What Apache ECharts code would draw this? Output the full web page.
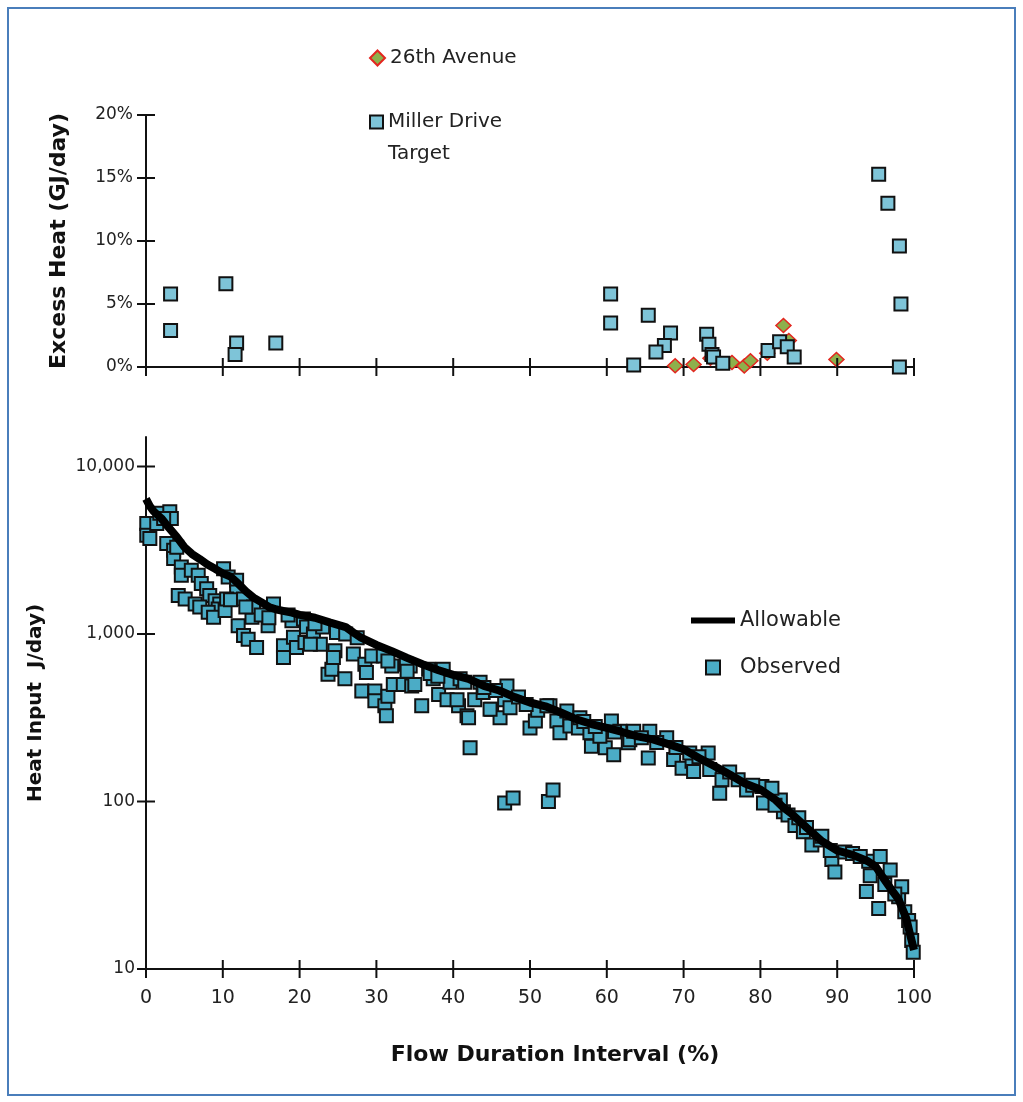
<!DOCTYPE html>
<html>
<head>
<meta charset="utf-8">
<script src="https://cdn.jsdelivr.net/npm/echarts@6/dist/echarts.min.js"></script>
<style>
  html, body { margin: 0; padding: 0; background: #fff; }
  #chart { width: 1023px; height: 1102px; }
  #frame { position: absolute; left: 7px; top: 7px; width: 1005px; height: 1085px;
           border: 2px solid #4a7ebb; pointer-events: none; }
</style>
</head>
<body>
<div id="chart"></div>
<div id="frame"></div>
<script>
// top panel: excess heat (%)
const avenueFlow = [68.9, 71.3, 73.5, 76.3, 77.9, 78.7, 80.9, 83.0, 83.7, 89.9]
const avenueExcess = [0.1, 0.2, 0.7, 0.35, 0.08, 0.5, 1.1, 3.3, 2.1, 0.6]

const millerFlow = [3.2, 3.2, 10.4, 11.8, 11.6, 16.9, 60.5, 60.5, 65.4, 68.3, 67.5, 66.4, 63.5,
  73.0, 73.3, 73.7, 73.9, 75.1, 81.0, 82.5, 83.5, 84.4, 95.4, 96.6, 98.1, 98.3, 98.1]
const millerExcess = [5.8, 2.9, 6.6, 1.9, 1.0, 1.9, 5.8, 3.5, 4.1, 2.7, 1.7, 1.2, 0.15,
  2.6, 1.8, 1.0, 0.8, 0.3, 1.3, 2.0, 1.6, 0.8, 15.3, 13.0, 9.6, 5.0, 0.0]

// bottom panel: heat input (log)
const allowFlow = [0, 0.5, 1, 2, 3, 4, 5, 6, 7, 8, 9, 10, 11, 12, 13, 14, 15, 16, 17, 18, 19, 20,
  22, 24, 26, 27, 28, 30, 32, 34, 36, 38, 40, 42, 44, 46, 48, 50, 52, 54, 56, 58, 60, 62, 64,
  66, 68, 70, 72, 74, 76, 78, 80, 82, 83, 84, 86, 88, 90, 92, 94, 95, 96, 97, 98, 99, 99.5, 100]
const allowHeat = [6400, 5800, 5400, 4900, 4300, 3800, 3300, 3000, 2800, 2600, 2450, 2300, 2200,
  2000, 1800, 1650, 1550, 1450, 1400, 1370, 1340, 1300, 1250, 1170, 1100, 1020, 950, 860, 790,
  720, 660, 610, 570, 540, 490, 460, 420, 390, 370, 340, 310, 290, 275, 260, 245, 235, 220, 205,
  182, 163, 145, 128, 118, 102, 92, 85, 70, 58, 51, 48, 44, 41, 35, 30, 26, 20, 16, 13]

const obsFlow = [0.1, 0.1, 0.5, 1.4, 1.8, 3.1, 3.3, 2.7, 3.6, 3.6, 4.6, 4.6, 5.9, 6.8, 7.2, 7.9,
  8.3, 9.0, 9.6, 9.4, 4.2, 5.1, 6.4, 7.0, 8.1, 8.8, 10.3, 10.1, 10.7, 11.8, 11.8, 12.7, 10.5,
  13.8, 14.0, 12.0, 12.7, 13.3, 14.4, 15.9, 16.6, 17.9, 17.9, 19.2, 19.6, 20.7, 19.0, 20.5, 20.9,
  21.8, 22.7, 21.4, 23.7, 24.2, 25.9, 24.8, 24.6, 24.4, 27.0, 28.5, 28.7, 29.4, 30.9, 28.1, 29.8,
  29.8, 31.1, 31.3, 31.5, 32.2, 32.0, 33.5, 34.4, 34.6, 35.9, 36.8, 37.4, 38.1, 38.7, 39.6, 39.2,
  40.7, 40.9, 41.8, 42.2, 40.5, 42.8, 41.5, 43.5, 43.9, 45.0, 46.1, 46.7, 47.4, 46.7, 47.8, 50.0,
  50.7, 52.4, 53.0, 53.5, 53.9, 55.2, 56.3, 52.6, 54.8, 57.8, 58.0, 59.8, 60.6, 60.9, 61.7, 62.8,
  65.6, 65.4, 67.8, 68.7, 69.8, 71.1, 73.2, 73.4, 75.0, 74.7, 77.1, 78.2, 80.2, 80.4, 82.6, 83.0,
  81.5, 81.9, 83.6, 84.5, 85.6, 86.7, 87.8, 89.3, 89.7, 89.1, 94.1, 95.6, 94.3, 93.8, 95.4, 96.2,
  96.9, 98.0, 98.4, 98.8, 99.3, 99.5, 99.7, 99.9, 33.9, 35.0, 37.0, 42.0, 44.8, 47.0, 51.0, 52.2,
  56.5, 59.1, 63.0, 63.5, 70.8, 71.3, 48.5, 49.5, 45.5, 44.0, 57.0, 58.5, 61.0, 64.5, 66.5, 69.0,
  72.0, 76.0, 79.0, 85.0, 86.0, 88.0, 91.0, 92.0, 93.0, 97.5, 26.0, 27.5, 23.0, 15.0, 16.0, 22.0,
  18.5, 13.0, 11.0, 2.3, 4.0, 34.0, 38.0, 31.5]
const obsHeat = [4570, 3890, 3720, 4570, 5250, 5370, 4900, 3470, 3160, 2820, 2510, 2240, 2400, 2240,
  2000, 1860, 1700, 1580, 1510, 1410, 1700, 1620, 1510, 1450, 1350, 1260, 1380, 2450, 2190, 2090,
  1780, 1620, 1620, 1260, 1450, 1120, 980, 930, 830, 1120, 1510, 850, 725, 955, 830, 890, 1200,
  1230, 1100, 1000, 870, 870, 575, 615, 540, 1020, 795, 725, 760, 660, 590, 740, 740, 457, 457,
  400, 373, 325, 425, 500, 645, 500, 645, 490, 373, 615, 540, 435, 615, 515, 405, 373, 540, 325,
  209, 405, 405, 515, 515, 447, 355, 316, 405, 363, 98, 105, 275, 302, 100, 117, 302, 257, 282,
  275, 373, 347, 257, 214, 209, 302, 190, 263, 224, 263, 182, 240, 178, 158, 174, 195, 155, 135,
  112, 135, 117, 123, 98, 102, 87, 120, 95, 83, 72, 66, 55, 59, 45, 38, 51, 44, 47, 36, 29, 23,
  32, 39, 27, 31, 22, 19.5, 17.8, 14.8, 12.6, 660, 500, 580, 316, 355, 490, 350, 373, 316, 245,
  234, 263, 195, 151, 420, 380, 460, 480, 300, 280, 260, 240, 225, 210, 185, 150, 125, 80, 70,
  62, 50, 49, 47, 28, 1000, 950, 1100, 1300, 1250, 1150, 1300, 1450, 1600, 4900, 3300, 600, 560, 690]

// tick positions (axis values)
const flowTicks = [0, 10, 20, 30, 40, 50, 60, 70, 80, 90, 100]
const excessTicks = [0, 5, 10, 15, 20]
const heatTicks = [10, 100, 1000, 10000]

const zip = (a, b) => a.map((v, i) => [v, b[i]])

const ink = '#111'
const tickFont = { fontFamily: 'DejaVu Sans', fontSize: 17, color: '#222' }
const titleFont = { fontFamily: 'DejaVu Sans', fontSize: 20, fontWeight: 'bold', color: '#111' }

function flowAxis(grid, extra) {
  return Object.assign({
    gridIndex: grid, type: 'value', min: 0, max: 100, interval: 10,
    axisLine: { show: true, onZero: false, lineStyle: { color: ink, width: 2 } },
    axisTick: { show: false },
    axisLabel: { show: false },
    splitLine: { show: false }
  }, extra)
}

// tick marks that cross the axis line (Excel style), placed through the axis scales
function crossTicks(name, axisIdx, values, vertical, base) {
  return {
    name: name, type: 'custom', xAxisIndex: axisIdx, yAxisIndex: axisIdx, silent: true,
    clip: false, z: 5,
    data: values.map(v => vertical ? [v, base] : [base, v]),
    renderItem: function (params, api) {
      const p = api.coord([api.value(0), api.value(1)])
      const half = 9
      const shape = vertical
        ? { x1: p[0], y1: p[1] - half, x2: p[0], y2: p[1] + half }
        : { x1: p[0] - half, y1: p[1], x2: p[0] + half, y2: p[1] }
      return { type: 'line', shape: shape, style: { stroke: ink, lineWidth: 2 } }
    }
  }
}

const chart = echarts.init(document.getElementById('chart'))
chart.setOption({
  animation: false,
  backgroundColor: '#fff',
  grid: [
    { left: 146, right: 109, top: 115, height: 252 },
    { left: 146, right: 109, top: 437, bottom: 133 }
  ],
  legend: [
    {
      data: ['26th Avenue'], left: 364, top: 43,
      itemWidth: 15, itemHeight: 15, itemGap: 0,
      textStyle: { fontFamily: 'DejaVu Sans', fontSize: 20, color: '#222' }
    },
    {
      data: ['Miller Drive Target'], left: 364, top: 69,
      itemWidth: 13, itemHeight: 13, itemGap: 0,
      formatter: ' \nMiller Drive\nTarget',
      textStyle: { fontFamily: 'DejaVu Sans', fontSize: 20, color: '#222', lineHeight: 32 }
    },
    {
      data: [
        { name: 'Allowable', icon: 'path://M0,0H45V6H0Z' },
        { name: 'Observed', icon: 'path://M0,0H10V10H0Z' }
      ],
      orient: 'vertical', left: 686, top: 605,
      itemWidth: 44, itemHeight: 14, itemGap: 26,
      textStyle: { fontFamily: 'DejaVu Sans', fontSize: 21, color: '#222' }
    }
  ],
  xAxis: [
    flowAxis(0),
    flowAxis(1, {
      axisLabel: Object.assign({ show: true, margin: 20 }, tickFont, { fontSize: 19 }),
      name: 'Flow Duration Interval (%)', nameLocation: 'middle', nameGap: 75,
      nameTextStyle: Object.assign({}, titleFont, { fontSize: 22, padding: [0, 0, 0, 50] })
    })
  ],
  yAxis: [
    {
      gridIndex: 0, type: 'value', min: 0, max: 20, interval: 5,
      axisLine: { show: true, onZero: false, lineStyle: { color: ink, width: 2 } },
      axisTick: { show: false },
      axisLabel: Object.assign({ formatter: '{value}%', margin: 13 }, tickFont),
      splitLine: { show: false },
      name: 'Excess Heat (GJ/day)', nameLocation: 'middle', nameGap: 76,
      nameTextStyle: Object.assign({}, titleFont, { fontSize: 22 })
    },
    {
      gridIndex: 1, type: 'log', logBase: 10, min: 10, max: 15000,
      axisLine: { show: true, onZero: false, lineStyle: { color: ink, width: 2 } },
      axisTick: { show: false },
      axisLabel: Object.assign({
        margin: 11, customValues: heatTicks,
        formatter: v => Number(v).toLocaleString('en-US')
      }, tickFont),
      splitLine: { show: false },
      name: 'Heat Input  J/day)', nameLocation: 'middle', nameGap: 100,
      nameTextStyle: titleFont
    }
  ],
  series: [
    {
      name: '26th Avenue', type: 'scatter', xAxisIndex: 0, yAxisIndex: 0,
      symbol: 'diamond', symbolSize: [15, 14],
      itemStyle: { color: '#8db04c', borderColor: '#e3261f', borderWidth: 1.5, opacity: 1 },
      data: zip(avenueFlow, avenueExcess)
    },
    {
      name: 'Miller Drive Target', type: 'scatter', xAxisIndex: 0, yAxisIndex: 0,
      symbol: 'rect', symbolSize: 13,
      itemStyle: { color: '#7ec4d8', borderColor: ink, borderWidth: 2, opacity: 1 },
      data: zip(millerFlow, millerExcess)
    },
    {
      name: 'Allowable', type: 'line', xAxisIndex: 1, yAxisIndex: 1,
      symbol: 'none', lineStyle: { color: '#000', width: 8 },
      itemStyle: { color: '#000' },
      data: zip(allowFlow, allowHeat)
    },
    {
      name: 'Observed', type: 'scatter', xAxisIndex: 1, yAxisIndex: 1,
      symbol: 'rect', symbolSize: 13,
      itemStyle: { color: '#4bacc6', borderColor: ink, borderWidth: 2, opacity: 1 },
      data: zip(obsFlow, obsHeat)
    },
    crossTicks('ticksTopX', 0, flowTicks, true, 0),
    crossTicks('ticksTopY', 0, excessTicks, false, 0),
    crossTicks('ticksBottomX', 1, flowTicks, true, 10),
    crossTicks('ticksBottomY', 1, heatTicks, false, 0)
  ]
})
</script>
</body>
</html>
